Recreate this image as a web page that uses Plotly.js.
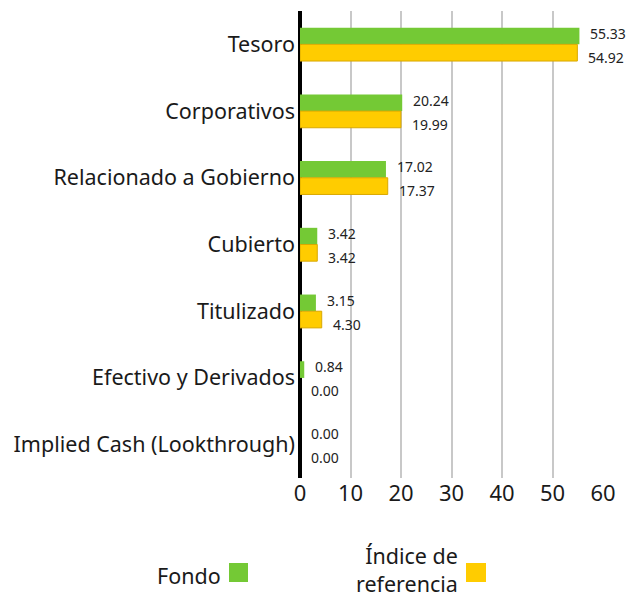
<!DOCTYPE html>
<html>
<head>
<meta charset="utf-8">
<script src="https://cdn.plot.ly/plotly-3.0.1.min.js"></script>
<style>html,body{margin:0;padding:0;background:#fff;}#chart{width:628px;height:597px;}</style>
</head>
<body>
<div id="chart"></div>
<script>
const categories = ["Tesoro", "Corporativos", "Relacionado a Gobierno", "Cubierto", "Titulizado", "Efectivo y Derivados", "Implied Cash (Lookthrough)"];
const fondoValues = [55.33, 20.24, 17.02, 3.42, 3.15, 0.84, 0.00];
const indiceValues = [54.92, 19.99, 17.37, 3.42, 4.30, 0.00, 0.00];
const seriesNames = ["Fondo", "Índice de<br>referencia"];
const xTickVals = [0, 10, 20, 30, 40, 50, 60];

const FONT = "Noto Sans, sans-serif";
const W = 628, H = 597;
const M = {l: 300, r: 25, t: 11, b: 119};
const pw = W - M.l - M.r, ph = H - M.t - M.b;
const px2x = p => (p - M.l) / pw;
const px2y = p => (H - M.b - p) / ph;

const green = "#74C935", yellow = "#FFCC00";

const traces = [
  {type: "bar", orientation: "h", name: seriesNames[0], y: categories, x: fondoValues,
   marker: {color: green, line: {width: 0}}, hoverinfo: "none"},
  {type: "bar", orientation: "h", name: seriesNames[1], y: categories, x: indiceValues,
   marker: {color: yellow, line: {color: "#D9A800", width: indiceValues.map(v => v > 0 ? 1 : 0)}}, hoverinfo: "none"}
];

const annotations = [];
categories.forEach((c, i) => {
  annotations.push({x: fondoValues[i], y: c, xref: "x", yref: "y", text: fondoValues[i].toFixed(2),
    showarrow: false, xanchor: "left", yanchor: "middle", xshift: 9, yshift: 11,
    font: {family: FONT, size: 14, color: "#222"}});
  annotations.push({x: indiceValues[i], y: c, xref: "x", yref: "y", text: indiceValues[i].toFixed(2),
    showarrow: false, xanchor: "left", yanchor: "middle", xshift: 9, yshift: -13,
    font: {family: FONT, size: 14, color: "#222"}});
});
// legend (text left of swatch)
annotations.push({xref: "paper", yref: "paper", x: px2x(223), y: px2y(575), text: seriesNames[0],
  showarrow: false, xanchor: "right", yanchor: "middle", align: "right",
  font: {family: FONT, size: 21.5, color: "#1a1a1a"}});
annotations.push({xref: "paper", yref: "paper", x: px2x(460), y: px2y(569), text: seriesNames[1],
  showarrow: false, xanchor: "right", yanchor: "middle", align: "right",
  font: {family: FONT, size: 21.5, color: "#1a1a1a"}});

const shapes = [
  {type: "rect", xref: "paper", yref: "paper", x0: px2x(229), x1: px2x(248), y0: px2y(582), y1: px2y(563),
   fillcolor: green, line: {width: 0}},
  {type: "rect", xref: "paper", yref: "paper", x0: px2x(466), x1: px2x(486), y0: px2y(582), y1: px2y(563),
   fillcolor: yellow, line: {width: 0}}
];

const layout = {
  width: W, height: H,
  margin: M,
  paper_bgcolor: "#fff", plot_bgcolor: "#fff",
  showlegend: false,
  barmode: "group", bargap: 0.5, bargroupgap: 0,
  font: {family: FONT, color: "#1a1a1a"},
  xaxis: {range: [0, 60], tickvals: xTickVals, showgrid: true, gridcolor: "#c8c8c8", gridwidth: 2,
    zeroline: true, zerolinecolor: "#000", zerolinewidth: 4, showline: false, ticks: "",
    tickfont: {family: FONT, size: 22, color: "#1a1a1a"}, fixedrange: true},
  yaxis: {type: "category", autorange: "reversed", showgrid: false, zeroline: false, showline: false,
    ticks: "", ticklabelstandoff: 4, tickfont: {family: FONT, size: 21.5, color: "#1a1a1a"}, fixedrange: true},
  annotations: annotations,
  shapes: shapes
};

Plotly.newPlot("chart", traces, layout, {displayModeBar: false, staticPlot: true});
</script>
</body>
</html>
